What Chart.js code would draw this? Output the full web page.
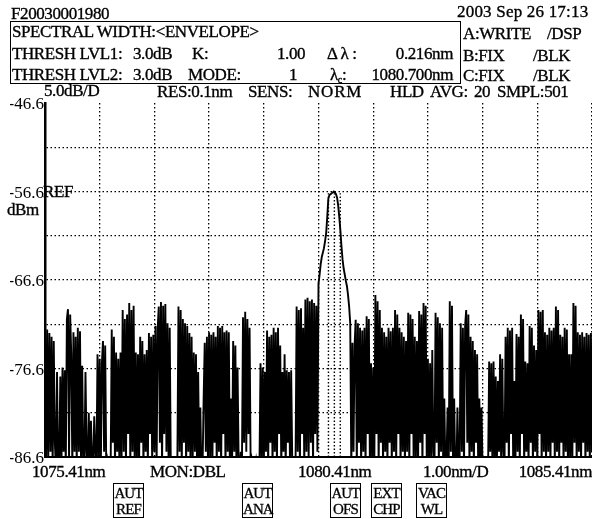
<!DOCTYPE html>
<html>
<head>
<meta charset="utf-8">
<script src="https://cdn.jsdelivr.net/npm/chart.js@4/dist/chart.umd.min.js"></script>
<style>
  html, body { margin: 0; padding: 0; background: #fff; overflow: hidden; }
  #wrap { position: relative; width: 592px; height: 519px; }
  #osa { position: absolute; left: 0; top: 0; }
  .t { position: absolute; font-family: "Liberation Serif", "DejaVu Serif", serif; font-size: 17px;
       line-height: 17px; color: #000; white-space: pre; letter-spacing: -0.4px;
       -webkit-text-stroke: 0.35px #000; }
  .box { position: absolute; border: 1.5px solid #000; box-sizing: border-box; }
  .key { position: absolute; border: 1.3px solid #000; box-sizing: border-box; width: 31px; height: 35px;
         font-family: "Liberation Serif", serif; font-size: 15px; line-height: 16px; text-align: center;
         padding-top: 1px; letter-spacing: -0.9px; -webkit-text-stroke: 0.3px #000; }
  sub { font-size: 10px; vertical-align: -3px; line-height: 0; }
</style>
</head>
<body>
<div id="wrap">
  <canvas id="osa" width="592" height="519"></canvas>

  <!-- header -->
  <div class="t" style="left:11px;top:5px;">F20030001980</div>
  <div class="t" style="left:457px;top:3px;letter-spacing:0.2px;">2003 Sep 26 17:13</div>
  <div class="box" style="left:10px;top:21px;width:451px;height:63px;"></div>
  <div class="t" style="left:12px;top:23px;">SPECTRAL WIDTH:&lt;ENVELOPE&gt;</div>
  <div class="t" style="left:463px;top:25px;">A:WRITE</div>
  <div class="t" style="left:547px;top:25px;">/DSP</div>

  <div class="t" style="left:12px;top:45px;">THRESH LVL1:</div>
  <div class="t" style="left:133px;top:45px;">3.0dB</div>
  <div class="t" style="left:192px;top:45px;">K:</div>
  <div class="t" style="left:277px;top:45px;">1.00</div>
  <div class="t" style="left:327px;top:45px;">Δ λ :</div>
  <div class="t" style="right:139px;top:45px;">0.216nm</div>
  <div class="t" style="left:463px;top:47px;">B:FIX</div>
  <div class="t" style="left:533px;top:47px;">/BLK</div>

  <div class="t" style="left:12px;top:66px;">THRESH LVL2:</div>
  <div class="t" style="left:133px;top:66px;">3.0dB</div>
  <div class="t" style="left:188px;top:66px;">MODE:</div>
  <div class="t" style="left:289px;top:66px;">1</div>
  <div class="t" style="left:330px;top:66px;">λ<sub>c</sub>:</div>
  <div class="t" style="right:139px;top:66px;">1080.700nm</div>
  <div class="t" style="left:463px;top:67px;">C:FIX</div>
  <div class="t" style="left:533px;top:67px;">/BLK</div>

  <div class="t" style="left:44px;top:82px;">5.0dB/D</div>
  <div class="t" style="left:157px;top:83px;">RES:0.1nm</div>
  <div class="t" style="left:248px;top:83px;">SENS:</div>
  <div class="t" style="left:308px;top:83px;letter-spacing:0.8px;">NORM</div>
  <div class="t" style="left:390px;top:83px;">HLD</div>
  <div class="t" style="left:430px;top:83px;">AVG:</div>
  <div class="t" style="left:474px;top:83px;">20</div>
  <div class="t" style="left:497px;top:83px;">SMPL:501</div>

  <!-- reference level annotation -->
  <div class="t" style="left:43px;top:183px;">REF</div>
  <div class="t" style="left:7px;top:201px;">dBm</div>

  <!-- footer -->
  <div class="t" style="left:32px;top:463px;">1075.41nm</div>
  <div class="t" style="left:150px;top:463px;">MON:DBL</div>
  <div class="t" style="left:298px;top:463px;">1080.41nm</div>
  <div class="t" style="left:423px;top:463px;">1.00nm/D</div>
  <div class="t" style="right:0px;top:463px;">1085.41nm</div>

  <div class="key" style="left:113px;top:483px;">AUT<br>REF</div>
  <div class="key" style="left:242px;top:483px;">AUT<br>ANA</div>
  <div class="key" style="left:330px;top:483px;">AUT<br>OFS</div>
  <div class="key" style="left:371px;top:483px;">EXT<br>CHP</div>
  <div class="key" style="left:416px;top:483px;">VAC<br>WL</div>
</div>

<script>
// Sweep: 1075.41 nm start, 10 nm span, 501 samples (0.02 nm apart)
const START_NM = 1075.41;
const STEP_NM = 0.02;
const X_TICKS = [1075.41, 1076.41, 1077.41, 1078.41, 1079.41, 1080.41, 1081.41, 1082.41, 1083.41, 1084.41, 1085.41];
const Y_TICKS = [-86.6, -81.6, -76.6, -71.6, -66.6, -61.6, -56.6, -51.6, -46.6];
const Y_LABELED = ['-86.6', '-76.6', '-66.6', '-56.6', '-46.6'];

// Trace A (dBm), one value per sample; readings below the bottom line sit under -86.6
const TRACE_DBM = [
  -71.5,-88,-72.2,-87,-72.6,-86,-73.0,-88,-73.5,-85,
  -88,-77,-89,-87,-77.5,-88,-76.5,-86,-76.8,-88,
  -71,-69.9,-87,-70.5,-75,-88,-72.5,-86,-73,-88,
  -72.0,-86,-72.4,-88,-76.3,-87,-88,-77,-86,-88,
  -81.6,-88,-82.5,-87,-88,-82,-86,-88,-75,-87,
  -75.5,-88,-76,-73.5,-86,-74,-88,-87,-88,-89,
  -88,-72.2,-85,-73,-88,-74.8,-86,-75.5,-88,-74.8,
  -87,-70,-86,-71,-88,-70.5,-84,-69.2,-88,-70,
  -86,-69.5,-88,-74.8,-87,-75,-88,-73,-85,-73.5,
  -88,-75,-86,-74.5,-88,-72.6,-84,-73,-88,-72.8,
  -86,-71.8,-88,-72,-69.6,-85,-69.1,-88,-69.5,-84,
  -69.3,-86,-71.5,-88,-72,-88,-89,-88,-88,-89,
  -88,-87,-69.6,-86,-70,-88,-71,-85,-71.5,-88,
  -71.8,-86,-72.6,-88,-73,-87,-74.8,-86,-75,-88,
  -77,-88,-81,-89,-88,-80,-73.7,-86,-73,-88,
  -72.5,-87,-72.8,-88,-72.5,-85,-73,-88,-71.8,-86,
  -72,-88,-71.8,-84,-72.5,-88,-72.3,-86,-72.5,-88,
  -80,-88,-73.5,-86,-74,-88,-76.5,-87,-88,-86,
  -88,-70.8,-85,-70.2,-86,-71,-84,-72,-88,-87,
  -88,-89,-88,-87,-88,-89,-88,-76,-87,-76.5,
  -88,-77,-86,-72.3,-88,-73,-85,-72.8,-88,-72,
  -86,-72.5,-88,-72,-84,-74,-88,-77,-86,-75,
  -88,-76.8,-85,-77,-88,-76.8,-87,-88,-89,-88,
  -69.6,-86,-70,-88,-69.8,-84,-72,-88,-68.8,-86,
  -68.6,-87,-69,-85,-68.8,-88,-69.2,-84,-69.5,-86,
  -67,-66,-64.8,-64,-63.5,-63,-62.2,-61.3,-59.5,-57.4,
  -57.0,-56.9,-56.8,-56.7,-56.6,-56.7,-56.9,-57.3,-58.2,-59.5,
  -61,-62.8,-64.3,-65.3,-66,-66.7,-67.3,-68.3,-69.6,-71.5,
  -88,-73.7,-86,-74,-71.1,-88,-71.5,-85,-72,-88,
  -72.3,-86,-72,-88,-70.7,-84,-71,-88,-76,-87,
  -76.5,-88,-68.3,-84,-69,-88,-70,-85,-72,-88,
  -72.5,-86,-73,-88,-72,-85,-72.4,-88,-72,-86,
  -70,-88,-70.5,-84,-72,-88,-72.5,-86,-73,-88,
  -73.5,-86,-70.3,-88,-70.5,-84,-71,-88,-73,-87,
  -73.5,-88,-70.1,-85,-70.5,-88,-69.2,-84,-69.5,-88,
  -75.5,-87,-76,-88,-74.5,-86,-88,-70.3,-85,-70.8,
  -88,-71.5,-86,-72,-88,-80,-88,-87,-81,-88,
  -69,-86,-69.5,-88,-80,-88,-89,-81,-88,-87,
  -71.5,-86,-72,-88,-71.8,-70,-85,-70.5,-88,-73,
  -86,-73.5,-88,-74.5,-85,-75,-88,-80,-87,-81,
  -88,-89,-88,-87,-89,-88,-75.8,-86,-76,-88,
  -75.8,-87,-77.5,-88,-78,-86,-75,-88,-75.5,-86,
  -88,-73,-85,-72,-88,-72.3,-84,-72,-88,-78,
  -88,-72.7,-86,-73,-88,-70.5,-84,-71,-88,-75.8,
  -86,-76,-88,-71.8,-85,-72,-88,-74,-86,-74.5,
  -88,-70,-84,-70.2,-88,-70,-86,-72.5,-88,-72.8,
  -86,-72,-88,-72.3,-85,-72,-88,-69.6,-86,-70,
  -88,-72.8,-85,-73,-88,-72,-86,-72.2,-88,-75,
  -87,-75,-88,-69.2,-85,-69.5,-88,-72.5,-86,-72.8,
  -88,-72.5,-85,-73,-88,-72.6,-86,-72.8,-88,-72.6,
  -86
];

// Envelope analysis markers: λ1, λc, λ2 and the level they rise to
const MARKER_NM = [1080.592, 1080.700, 1080.808];
const MARKER_TOP_DBM = -56.8;
const FLOOR_DBM = -86.6;
const TOP_DBM = Y_TICKS[Y_TICKS.length - 1];

const traceData = TRACE_DBM.map((v, i) => ({ x: START_NM + i * STEP_NM, y: v }));
const markerSets = MARKER_NM.map(nm => ({
  data: [{ x: nm, y: FLOOR_DBM }, { x: nm, y: MARKER_TOP_DBM }],
  borderColor: '#000', borderWidth: 1.4, borderDash: [1.5, 2], pointRadius: 0, fill: false
}));

new Chart(document.getElementById('osa'), {
  type: 'line',
  data: {
    datasets: [
      ...markerSets,
      { data: traceData, borderColor: '#000', borderWidth: 1.9, pointRadius: 0, tension: 0, fill: false,
        borderJoinStyle: 'miter' }
    ]
  },
  options: {
    responsive: false,
    animation: false,
    devicePixelRatio: 1,
    layout: { padding: { left: 10, top: 103, right: 0, bottom: 62 } },
    plugins: { legend: { display: false }, tooltip: { enabled: false } },
    scales: {
      x: {
        type: 'linear', min: X_TICKS[0], max: X_TICKS[X_TICKS.length - 1],
        afterBuildTicks: s => { s.ticks = X_TICKS.map(v => ({ value: v })); },
        afterFit: s => { s.height = 0; },
        ticks: { display: false },
        grid: { color: '#000', lineWidth: 1.3, drawTicks: false },
        border: { display: true, color: '#000', width: 2, dash: [1.5, 2.5] }
      },
      y: {
        type: 'linear', min: Y_TICKS[0], max: TOP_DBM,
        afterBuildTicks: s => { s.ticks = Y_TICKS.map(v => ({ value: v })); },
        afterFit: s => { s.width = 35; },
        ticks: {
          padding: 1,
          labelOffset: 2,
          color: '#000',
          font: { family: 'Liberation Serif', size: 17 },
          callback: v => { const t = v.toFixed(1); return Y_LABELED.includes(t) ? t : ''; }
        },
        grid: {
          color: c => (c.tick && c.tick.value === TOP_DBM) ? 'rgba(0,0,0,0)' : '#000',
          lineWidth: 1.3, drawTicks: false
        },
        border: { display: true, color: '#000', width: 2.5, dash: [1.5, 2.5] }
      }
    }
  }
});
</script>
</body>
</html>
